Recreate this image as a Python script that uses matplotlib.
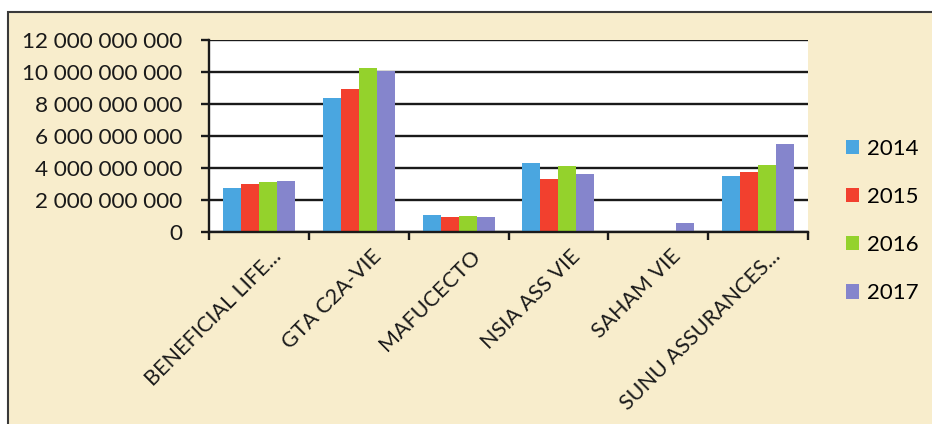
import numpy as np
import matplotlib
matplotlib.use('Agg')
import matplotlib.pyplot as plt
from matplotlib.patches import Rectangle
from matplotlib.ticker import FuncFormatter
from matplotlib.transforms import ScaledTranslation

companies = ['BENEFICIAL LIFE...', 'GTA C2A-VIE', 'MAFUCECTO', 'NSIA ASS VIE',
             'SAHAM VIE', 'SUNU ASSURANCES...']
years = ['2014', '2015', '2016', '2017']
v2014 = [2.72e9, 8.40e9, 1.04e9, 4.33e9, 0, 3.48e9]
v2015 = [3.00e9, 8.96e9, 0.94e9, 3.31e9, 0, 3.73e9]
v2016 = [3.10e9, 10.25e9, 0.97e9, 4.15e9, 0, 4.19e9]
v2017 = [3.20e9, 10.08e9, 0.94e9, 3.63e9, 0.58e9, 5.48e9]
colors = ['#4aa6e0', '#f2402e', '#94d22c', '#8585cc']

plt.rcParams['font.family'] = ['Lato', 'DejaVu Sans']

fig = plt.figure(figsize=(9.32, 4.24), dpi=100)
fig.patch.set_facecolor('white')
# scanned chart frame
frame = Rectangle((8/932, -0.2), 1.2, 0.2 + 1 - 12/424,
                  transform=fig.transFigure, facecolor='#f8edcc',
                  edgecolor='#3a3a3a', lw=1.5, zorder=-5)
fig.patches.append(frame)

ax = fig.add_axes([209/932, 1 - 232/424, 599/932, 192/424])
ax.set_zorder(2)
ax.set_facecolor('white')

x = np.arange(len(companies))
w = 0.18
for i, (vals, c) in enumerate(zip([v2014, v2015, v2016, v2017], colors)):
    ax.bar(x + (i - 1.5) * w, vals, w, color=c, label=years[i], zorder=3)

ax.set_xlim(-0.5, len(companies) - 0.5)
ax.set_ylim(0, 12e9)
ax.set_yticks(np.arange(0, 12e9 + 1, 2e9))
ax.yaxis.set_major_formatter(FuncFormatter(lambda v, p: '{:,.0f}'.format(v).replace(',', ' ')))
ax.grid(axis='y', color='#1a1a1a', lw=1.7, zorder=1)
for s in ['top', 'right']:
    ax.spines[s].set_visible(False)
for s in ['left', 'bottom']:
    ax.spines[s].set_color('#1a1a1a')
    ax.spines[s].set_linewidth(1.7)
    ax.spines[s].set_zorder(4)

ax.set_xticks(np.arange(-0.5, len(companies)))
ax.set_xticklabels([])
ax.set_xticks(x, minor=True)
ax.set_xticklabels(companies, minor=True, rotation=45, ha='right',
                   rotation_mode='anchor', fontsize=15.5, color='#1a1a1a')
ax.tick_params(axis='x', which='minor', length=0, pad=10)
ax.tick_params(axis='x', which='major', length=6, width=1.7, color='#1a1a1a')
ax.tick_params(axis='y', length=6, width=1.7, color='#1a1a1a', labelsize=16.2,
               labelcolor='#1a1a1a', pad=13.5)
for lab in ax.get_xticklabels(minor=True):
    lab.set_transform(lab.get_transform() + ScaledTranslation(0.12, 0, fig.dpi_scale_trans))

leg = ax.legend(loc='center left', bbox_to_anchor=(846/932, 1 - 221/424),
                bbox_transform=fig.transFigure, frameon=False, fontsize=16,
                handlelength=0.6, handleheight=0.6, handletextpad=0.35,
                labelspacing=1.27, borderpad=0, borderaxespad=0)

fig.savefig('out.png', dpi=100, facecolor=fig.get_facecolor())
